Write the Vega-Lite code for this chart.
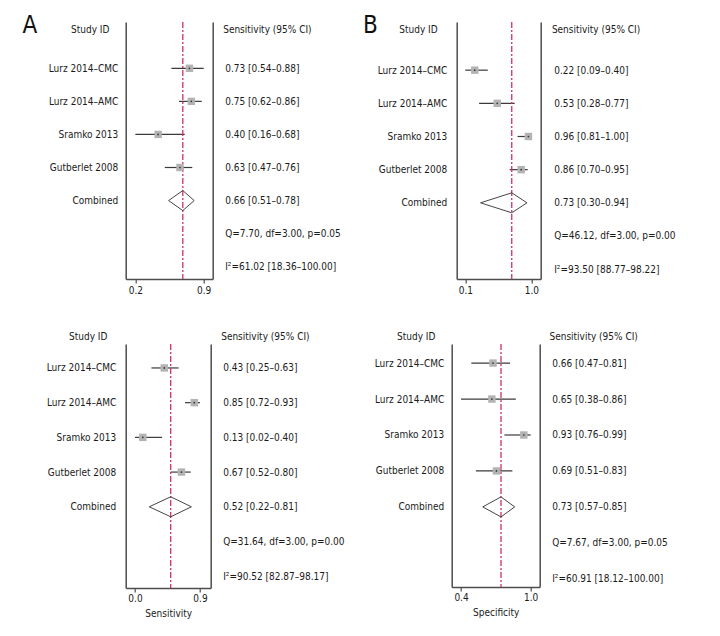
{
  "$schema": "https://vega.github.io/schema/vega-lite/v6.json",
  "padding": {"left": 21.7, "top": 14, "right": 5, "bottom": 5},
  "data": {"values": [
    {"panel": "A1", "row": 1, "study": "Lurz 2014–CMC", "right": "0.73 [0.54–0.88]", "est": 0.73, "lo": 0.54, "hi": 0.88, "type": "study"},
    {"panel": "A1", "row": 2, "study": "Lurz 2014–AMC", "right": "0.75 [0.62–0.86]", "est": 0.75, "lo": 0.62, "hi": 0.86, "type": "study"},
    {"panel": "A1", "row": 3, "study": "Sramko 2013", "right": "0.40 [0.16–0.68]", "est": 0.40, "lo": 0.16, "hi": 0.68, "type": "study"},
    {"panel": "A1", "row": 4, "study": "Gutberlet 2008", "right": "0.63 [0.47–0.76]", "est": 0.63, "lo": 0.47, "hi": 0.76, "type": "study"},
    {"panel": "A1", "row": 5, "study": "Combined", "right": "0.66 [0.51–0.78]", "est": 0.66, "lo": 0.51, "hi": 0.78, "type": "combined"},
    {"panel": "A1", "row": 6, "study": "Q=7.70, df=3.00, p=0.05", "right": "Q=7.70, df=3.00, p=0.05", "type": "stat"},
    {"panel": "A1", "row": 7, "study": "I²=61.02 [18.36–100.00]", "right": "I²=61.02 [18.36–100.00]", "type": "stat"},
    {"panel": "B1", "row": 1, "study": "Lurz 2014–CMC", "right": "0.22 [0.09–0.40]", "est": 0.22, "lo": 0.09, "hi": 0.40, "type": "study"},
    {"panel": "B1", "row": 2, "study": "Lurz 2014–AMC", "right": "0.53 [0.28–0.77]", "est": 0.53, "lo": 0.28, "hi": 0.77, "type": "study"},
    {"panel": "B1", "row": 3, "study": "Sramko 2013", "right": "0.96 [0.81–1.00]", "est": 0.96, "lo": 0.81, "hi": 1.00, "type": "study"},
    {"panel": "B1", "row": 4, "study": "Gutberlet 2008", "right": "0.86 [0.70–0.95]", "est": 0.86, "lo": 0.70, "hi": 0.95, "type": "study"},
    {"panel": "B1", "row": 5, "study": "Combined", "right": "0.73 [0.30–0.94]", "est": 0.73, "lo": 0.30, "hi": 0.94, "type": "combined"},
    {"panel": "B1", "row": 6, "study": "Q=46.12, df=3.00, p=0.00", "right": "Q=46.12, df=3.00, p=0.00", "type": "stat"},
    {"panel": "B1", "row": 7, "study": "I²=93.50 [88.77–98.22]", "right": "I²=93.50 [88.77–98.22]", "type": "stat"},
    {"panel": "A2", "row": 1, "study": "Lurz 2014–CMC", "right": "0.43 [0.25–0.63]", "est": 0.43, "lo": 0.25, "hi": 0.63, "type": "study"},
    {"panel": "A2", "row": 2, "study": "Lurz 2014–AMC", "right": "0.85 [0.72–0.93]", "est": 0.85, "lo": 0.72, "hi": 0.93, "type": "study"},
    {"panel": "A2", "row": 3, "study": "Sramko 2013", "right": "0.13 [0.02–0.40]", "est": 0.13, "lo": 0.02, "hi": 0.40, "type": "study"},
    {"panel": "A2", "row": 4, "study": "Gutberlet 2008", "right": "0.67 [0.52–0.80]", "est": 0.67, "lo": 0.52, "hi": 0.80, "type": "study"},
    {"panel": "A2", "row": 5, "study": "Combined", "right": "0.52 [0.22–0.81]", "est": 0.52, "lo": 0.22, "hi": 0.81, "type": "combined"},
    {"panel": "A2", "row": 6, "study": "Q=31.64, df=3.00, p=0.00", "right": "Q=31.64, df=3.00, p=0.00", "type": "stat"},
    {"panel": "A2", "row": 7, "study": "I²=90.52 [82.87–98.17]", "right": "I²=90.52 [82.87–98.17]", "type": "stat"},
    {"panel": "B2", "row": 1, "study": "Lurz 2014–CMC", "right": "0.66 [0.47–0.81]", "est": 0.66, "lo": 0.47, "hi": 0.81, "type": "study"},
    {"panel": "B2", "row": 2, "study": "Lurz 2014–AMC", "right": "0.65 [0.38–0.86]", "est": 0.65, "lo": 0.38, "hi": 0.86, "type": "study"},
    {"panel": "B2", "row": 3, "study": "Sramko 2013", "right": "0.93 [0.76–0.99]", "est": 0.93, "lo": 0.76, "hi": 0.99, "type": "study"},
    {"panel": "B2", "row": 4, "study": "Gutberlet 2008", "right": "0.69 [0.51–0.83]", "est": 0.69, "lo": 0.51, "hi": 0.83, "type": "study"},
    {"panel": "B2", "row": 5, "study": "Combined", "right": "0.73 [0.57–0.85]", "est": 0.73, "lo": 0.57, "hi": 0.85, "type": "combined"},
    {"panel": "B2", "row": 6, "study": "Q=7.67, df=3.00, p=0.05", "right": "Q=7.67, df=3.00, p=0.05", "type": "stat"},
    {"panel": "B2", "row": 7, "study": "I²=60.91 [18.12–100.00]", "right": "I²=60.91 [18.12–100.00]", "type": "stat"}
  ]},
  "vconcat": [
    {"hconcat": [
      {
        "width": 87, "height": 257,
        "title": {"text": "A", "anchor": "start", "frame": "bounds", "fontSize": 24, "baseline": "alphabetic", "offset": -25, "dy": 11, "dx": -2},
        "transform": [{"filter": "datum.panel === 'A1'"}],
        "layer": [
          {"layer": [
            {"mark": {"type": "text", "text": ""}, "encoding": {"y": {"field": "study", "type": "ordinal", "sort": {"field": "row", "op": "min"}, "scale": {"type": "point", "padding": 0.886, "align": 0.79}, "axis": {"orient": "left", "title": "Study ID", "titleAngle": 0, "titleX": -36, "titleY": 7.3, "titleAlign": "center", "titleBaseline": "middle", "ticks": false, "labelPadding": 8, "minExtent": 101.3, "labelExpr": "indexof(datum.value, '=') >= 0 ? '' : datum.value"}}}},
            {"transform": [{"filter": "datum.type === 'study'"}], "mark": {"type": "rule", "color": "#3a3a3a", "strokeWidth": 1.2},
             "encoding": {"x": {"field": "lo", "type": "quantitative", "scale": {"domain": [0.058, 0.975], "nice": false, "zero": false}, "axis": {"values": [0.16, 0.88], "format": ".1f", "tickSize": 4, "labelPadding": 2, "title": null}}, "x2": {"field": "hi"}, "y": {"field": "study", "type": "ordinal", "sort": {"field": "row", "op": "min"}}}},
            {"transform": [{"filter": "datum.type === 'combined'"}], "mark": {"type": "rule", "color": "#d62f62", "strokeWidth": 1.3, "strokeDash": [6, 2, 2, 2]},
             "encoding": {"x": {"field": "est", "type": "quantitative", "scale": {"domain": [0.058, 0.975], "nice": false, "zero": false}, "axis": {"values": [0.16, 0.88], "format": ".1f", "tickSize": 4, "labelPadding": 2, "title": null}}}},
            {"transform": [{"filter": "datum.type === 'combined'"}], "mark": {"type": "rule", "color": "#444", "strokeWidth": 1, "yOffset": 0, "y2Offset": -10},
             "encoding": {"x": {"field": "lo", "type": "quantitative", "scale": {"domain": [0.058, 0.975], "nice": false, "zero": false}, "axis": {"values": [0.16, 0.88], "format": ".1f", "tickSize": 4, "labelPadding": 2, "title": null}}, "x2": {"field": "est"}, "y": {"field": "study", "type": "ordinal", "sort": {"field": "row", "op": "min"}}, "y2": {"field": "study"}}},
            {"transform": [{"filter": "datum.type === 'combined'"}], "mark": {"type": "rule", "color": "#444", "strokeWidth": 1, "yOffset": -10, "y2Offset": 0},
             "encoding": {"x": {"field": "est", "type": "quantitative", "scale": {"domain": [0.058, 0.975], "nice": false, "zero": false}, "axis": {"values": [0.16, 0.88], "format": ".1f", "tickSize": 4, "labelPadding": 2, "title": null}}, "x2": {"field": "hi"}, "y": {"field": "study", "type": "ordinal", "sort": {"field": "row", "op": "min"}}, "y2": {"field": "study"}}},
            {"transform": [{"filter": "datum.type === 'combined'"}], "mark": {"type": "rule", "color": "#444", "strokeWidth": 1, "yOffset": 0, "y2Offset": 10},
             "encoding": {"x": {"field": "lo", "type": "quantitative", "scale": {"domain": [0.058, 0.975], "nice": false, "zero": false}, "axis": {"values": [0.16, 0.88], "format": ".1f", "tickSize": 4, "labelPadding": 2, "title": null}}, "x2": {"field": "est"}, "y": {"field": "study", "type": "ordinal", "sort": {"field": "row", "op": "min"}}, "y2": {"field": "study"}}},
            {"transform": [{"filter": "datum.type === 'combined'"}], "mark": {"type": "rule", "color": "#444", "strokeWidth": 1, "yOffset": 10, "y2Offset": 0},
             "encoding": {"x": {"field": "est", "type": "quantitative", "scale": {"domain": [0.058, 0.975], "nice": false, "zero": false}, "axis": {"values": [0.16, 0.88], "format": ".1f", "tickSize": 4, "labelPadding": 2, "title": null}}, "x2": {"field": "hi"}, "y": {"field": "study", "type": "ordinal", "sort": {"field": "row", "op": "min"}}, "y2": {"field": "study"}}},
            {"transform": [{"filter": "datum.type === 'study'"}], "mark": {"type": "point", "shape": "square", "filled": true, "color": "#b3b3b3", "size": 55, "opacity": 1},
             "encoding": {"x": {"field": "est", "type": "quantitative", "scale": {"domain": [0.058, 0.975], "nice": false, "zero": false}, "axis": {"values": [0.16, 0.88], "format": ".1f", "tickSize": 4, "labelPadding": 2, "title": null}}, "y": {"field": "study", "type": "ordinal", "sort": {"field": "row", "op": "min"}}}},
            {"transform": [{"filter": "datum.type === 'study'"}], "mark": {"type": "point", "shape": "circle", "filled": true, "color": "#333", "size": 3, "opacity": 1},
             "encoding": {"x": {"field": "est", "type": "quantitative", "scale": {"domain": [0.058, 0.975], "nice": false, "zero": false}, "axis": {"values": [0.16, 0.88], "format": ".1f", "tickSize": 4, "labelPadding": 2, "title": null}}, "y": {"field": "study", "type": "ordinal", "sort": {"field": "row", "op": "min"}}}}
          ]},
          {"mark": {"type": "text", "text": ""}, "encoding": {"y": {"field": "right", "type": "ordinal", "sort": {"field": "row", "op": "min"}, "scale": {"type": "point", "padding": 0.886, "align": 0.79}, "axis": {"orient": "right", "title": "Sensitivity (95% CI)", "titleAngle": 0, "titleX": 10, "titleY": 7.3, "titleAlign": "left", "titleBaseline": "middle", "ticks": false, "labelPadding": 12, "labelAlign": "left", "minExtent": 140}}}}
        ],
        "resolve": {"scale": {"y": "independent"}}
      },
      {
        "width": 84, "height": 257,
        "title": {"text": "B", "anchor": "start", "frame": "bounds", "fontSize": 24, "baseline": "alphabetic", "offset": -25, "dy": 11, "dx": -2},
        "transform": [{"filter": "datum.panel === 'B1'"}],
        "layer": [
          {"layer": [
            {"mark": {"type": "text", "text": ""}, "encoding": {"y": {"field": "study", "type": "ordinal", "sort": {"field": "row", "op": "min"}, "scale": {"type": "point", "padding": 0.875, "align": 0.83}, "axis": {"orient": "left", "title": "Study ID", "titleAngle": 0, "titleX": -38.7, "titleY": 7.3, "titleAlign": "center", "titleBaseline": "middle", "ticks": false, "labelPadding": 10, "minExtent": 91.7, "labelExpr": "indexof(datum.value, '=') >= 0 ? '' : datum.value"}}}},
            {"transform": [{"filter": "datum.type === 'study'"}], "mark": {"type": "rule", "color": "#3a3a3a", "strokeWidth": 1.2},
             "encoding": {"x": {"field": "lo", "type": "quantitative", "scale": {"domain": [-0.029, 1.129], "nice": false, "zero": false}, "axis": {"values": [0.09, 1.0], "format": ".1f", "tickSize": 4, "labelPadding": 2, "title": null}}, "x2": {"field": "hi"}, "y": {"field": "study", "type": "ordinal", "sort": {"field": "row", "op": "min"}}}},
            {"transform": [{"filter": "datum.type === 'combined'"}], "mark": {"type": "rule", "color": "#d62f62", "strokeWidth": 1.3, "strokeDash": [6, 2, 2, 2]},
             "encoding": {"x": {"field": "est", "type": "quantitative", "scale": {"domain": [-0.029, 1.129], "nice": false, "zero": false}, "axis": {"values": [0.09, 1.0], "format": ".1f", "tickSize": 4, "labelPadding": 2, "title": null}}}},
            {"transform": [{"filter": "datum.type === 'combined'"}], "mark": {"type": "rule", "color": "#444", "strokeWidth": 1, "yOffset": 0, "y2Offset": -10},
             "encoding": {"x": {"field": "lo", "type": "quantitative", "scale": {"domain": [-0.029, 1.129], "nice": false, "zero": false}, "axis": {"values": [0.09, 1.0], "format": ".1f", "tickSize": 4, "labelPadding": 2, "title": null}}, "x2": {"field": "est"}, "y": {"field": "study", "type": "ordinal", "sort": {"field": "row", "op": "min"}}, "y2": {"field": "study"}}},
            {"transform": [{"filter": "datum.type === 'combined'"}], "mark": {"type": "rule", "color": "#444", "strokeWidth": 1, "yOffset": -10, "y2Offset": 0},
             "encoding": {"x": {"field": "est", "type": "quantitative", "scale": {"domain": [-0.029, 1.129], "nice": false, "zero": false}, "axis": {"values": [0.09, 1.0], "format": ".1f", "tickSize": 4, "labelPadding": 2, "title": null}}, "x2": {"field": "hi"}, "y": {"field": "study", "type": "ordinal", "sort": {"field": "row", "op": "min"}}, "y2": {"field": "study"}}},
            {"transform": [{"filter": "datum.type === 'combined'"}], "mark": {"type": "rule", "color": "#444", "strokeWidth": 1, "yOffset": 0, "y2Offset": 10},
             "encoding": {"x": {"field": "lo", "type": "quantitative", "scale": {"domain": [-0.029, 1.129], "nice": false, "zero": false}, "axis": {"values": [0.09, 1.0], "format": ".1f", "tickSize": 4, "labelPadding": 2, "title": null}}, "x2": {"field": "est"}, "y": {"field": "study", "type": "ordinal", "sort": {"field": "row", "op": "min"}}, "y2": {"field": "study"}}},
            {"transform": [{"filter": "datum.type === 'combined'"}], "mark": {"type": "rule", "color": "#444", "strokeWidth": 1, "yOffset": 10, "y2Offset": 0},
             "encoding": {"x": {"field": "est", "type": "quantitative", "scale": {"domain": [-0.029, 1.129], "nice": false, "zero": false}, "axis": {"values": [0.09, 1.0], "format": ".1f", "tickSize": 4, "labelPadding": 2, "title": null}}, "x2": {"field": "hi"}, "y": {"field": "study", "type": "ordinal", "sort": {"field": "row", "op": "min"}}, "y2": {"field": "study"}}},
            {"transform": [{"filter": "datum.type === 'study'"}], "mark": {"type": "point", "shape": "square", "filled": true, "color": "#b3b3b3", "size": 55, "opacity": 1},
             "encoding": {"x": {"field": "est", "type": "quantitative", "scale": {"domain": [-0.029, 1.129], "nice": false, "zero": false}, "axis": {"values": [0.09, 1.0], "format": ".1f", "tickSize": 4, "labelPadding": 2, "title": null}}, "y": {"field": "study", "type": "ordinal", "sort": {"field": "row", "op": "min"}}}},
            {"transform": [{"filter": "datum.type === 'study'"}], "mark": {"type": "point", "shape": "circle", "filled": true, "color": "#333", "size": 3, "opacity": 1},
             "encoding": {"x": {"field": "est", "type": "quantitative", "scale": {"domain": [-0.029, 1.129], "nice": false, "zero": false}, "axis": {"values": [0.09, 1.0], "format": ".1f", "tickSize": 4, "labelPadding": 2, "title": null}}, "y": {"field": "study", "type": "ordinal", "sort": {"field": "row", "op": "min"}}}}
          ]},
          {"mark": {"type": "text", "text": ""}, "encoding": {"y": {"field": "right", "type": "ordinal", "sort": {"field": "row", "op": "min"}, "scale": {"type": "point", "padding": 0.875, "align": 0.83}, "axis": {"orient": "right", "title": "Sensitivity (95% CI)", "titleAngle": 0, "titleX": 10.7, "titleY": 7.3, "titleAlign": "left", "titleBaseline": "middle", "ticks": false, "labelPadding": 13, "labelAlign": "left", "minExtent": 140}}}}
        ],
        "resolve": {"scale": {"y": "independent"}}
      }
    ], "spacing": 10},
    {"hconcat": [
      {
        "width": 85, "height": 244,
        "transform": [{"filter": "datum.panel === 'A2'"}],
        "layer": [
          {"layer": [
            {"mark": {"type": "text", "text": ""}, "encoding": {"y": {"field": "study", "type": "ordinal", "sort": {"field": "row", "op": "min"}, "scale": {"type": "point", "padding": 0.515, "align": 0.67}, "axis": {"orient": "left", "title": "Study ID", "titleAngle": 0, "titleX": -38, "titleY": -7.5, "titleAlign": "center", "titleBaseline": "middle", "ticks": false, "labelPadding": 10, "minExtent": 103.3, "labelExpr": "indexof(datum.value, '=') >= 0 ? '' : datum.value"}}}},
            {"transform": [{"filter": "datum.type === 'study'"}], "mark": {"type": "rule", "color": "#3a3a3a", "strokeWidth": 1.2},
             "encoding": {"x": {"field": "lo", "type": "quantitative", "scale": {"domain": [-0.11, 1.08], "nice": false, "zero": false}, "axis": {"values": [0.02, 0.93], "format": ".1f", "tickSize": 4, "labelPadding": 2, "title": "Sensitivity", "titlePadding": 5}}, "x2": {"field": "hi"}, "y": {"field": "study", "type": "ordinal", "sort": {"field": "row", "op": "min"}}}},
            {"transform": [{"filter": "datum.type === 'combined'"}], "mark": {"type": "rule", "color": "#d62f62", "strokeWidth": 1.3, "strokeDash": [6, 2, 2, 2]},
             "encoding": {"x": {"field": "est", "type": "quantitative", "scale": {"domain": [-0.11, 1.08], "nice": false, "zero": false}, "axis": {"values": [0.02, 0.93], "format": ".1f", "tickSize": 4, "labelPadding": 2, "title": "Sensitivity", "titlePadding": 5}}}},
            {"transform": [{"filter": "datum.type === 'combined'"}], "mark": {"type": "rule", "color": "#444", "strokeWidth": 1, "yOffset": 0, "y2Offset": -10},
             "encoding": {"x": {"field": "lo", "type": "quantitative", "scale": {"domain": [-0.11, 1.08], "nice": false, "zero": false}, "axis": {"values": [0.02, 0.93], "format": ".1f", "tickSize": 4, "labelPadding": 2, "title": "Sensitivity", "titlePadding": 5}}, "x2": {"field": "est"}, "y": {"field": "study", "type": "ordinal", "sort": {"field": "row", "op": "min"}}, "y2": {"field": "study"}}},
            {"transform": [{"filter": "datum.type === 'combined'"}], "mark": {"type": "rule", "color": "#444", "strokeWidth": 1, "yOffset": -10, "y2Offset": 0},
             "encoding": {"x": {"field": "est", "type": "quantitative", "scale": {"domain": [-0.11, 1.08], "nice": false, "zero": false}, "axis": {"values": [0.02, 0.93], "format": ".1f", "tickSize": 4, "labelPadding": 2, "title": "Sensitivity", "titlePadding": 5}}, "x2": {"field": "hi"}, "y": {"field": "study", "type": "ordinal", "sort": {"field": "row", "op": "min"}}, "y2": {"field": "study"}}},
            {"transform": [{"filter": "datum.type === 'combined'"}], "mark": {"type": "rule", "color": "#444", "strokeWidth": 1, "yOffset": 0, "y2Offset": 10},
             "encoding": {"x": {"field": "lo", "type": "quantitative", "scale": {"domain": [-0.11, 1.08], "nice": false, "zero": false}, "axis": {"values": [0.02, 0.93], "format": ".1f", "tickSize": 4, "labelPadding": 2, "title": "Sensitivity", "titlePadding": 5}}, "x2": {"field": "est"}, "y": {"field": "study", "type": "ordinal", "sort": {"field": "row", "op": "min"}}, "y2": {"field": "study"}}},
            {"transform": [{"filter": "datum.type === 'combined'"}], "mark": {"type": "rule", "color": "#444", "strokeWidth": 1, "yOffset": 10, "y2Offset": 0},
             "encoding": {"x": {"field": "est", "type": "quantitative", "scale": {"domain": [-0.11, 1.08], "nice": false, "zero": false}, "axis": {"values": [0.02, 0.93], "format": ".1f", "tickSize": 4, "labelPadding": 2, "title": "Sensitivity", "titlePadding": 5}}, "x2": {"field": "hi"}, "y": {"field": "study", "type": "ordinal", "sort": {"field": "row", "op": "min"}}, "y2": {"field": "study"}}},
            {"transform": [{"filter": "datum.type === 'study'"}], "mark": {"type": "point", "shape": "square", "filled": true, "color": "#b3b3b3", "size": 55, "opacity": 1},
             "encoding": {"x": {"field": "est", "type": "quantitative", "scale": {"domain": [-0.11, 1.08], "nice": false, "zero": false}, "axis": {"values": [0.02, 0.93], "format": ".1f", "tickSize": 4, "labelPadding": 2, "title": "Sensitivity", "titlePadding": 5}}, "y": {"field": "study", "type": "ordinal", "sort": {"field": "row", "op": "min"}}}},
            {"transform": [{"filter": "datum.type === 'study'"}], "mark": {"type": "point", "shape": "circle", "filled": true, "color": "#333", "size": 3, "opacity": 1},
             "encoding": {"x": {"field": "est", "type": "quantitative", "scale": {"domain": [-0.11, 1.08], "nice": false, "zero": false}, "axis": {"values": [0.02, 0.93], "format": ".1f", "tickSize": 4, "labelPadding": 2, "title": "Sensitivity", "titlePadding": 5}}, "y": {"field": "study", "type": "ordinal", "sort": {"field": "row", "op": "min"}}}}
          ]},
          {"mark": {"type": "text", "text": ""}, "encoding": {"y": {"field": "right", "type": "ordinal", "sort": {"field": "row", "op": "min"}, "scale": {"type": "point", "padding": 0.515, "align": 0.67}, "axis": {"orient": "right", "title": "Sensitivity (95% CI)", "titleAngle": 0, "titleX": 10, "titleY": -7.5, "titleAlign": "left", "titleBaseline": "middle", "ticks": false, "labelPadding": 12, "labelAlign": "left", "minExtent": 140}}}}
        ],
        "resolve": {"scale": {"y": "independent"}}
      },
      {
        "width": 88, "height": 243,
        "transform": [{"filter": "datum.panel === 'B2'"}],
        "layer": [
          {"layer": [
            {"mark": {"type": "text", "text": ""}, "encoding": {"y": {"field": "study", "type": "ordinal", "sort": {"field": "row", "op": "min"}, "scale": {"type": "point", "padding": 0.379, "align": 0.7}, "axis": {"orient": "left", "title": "Study ID", "titleAngle": 0, "titleX": -36, "titleY": -7.5, "titleAlign": "center", "titleBaseline": "middle", "ticks": false, "labelPadding": 8, "minExtent": 89, "labelExpr": "indexof(datum.value, '=') >= 0 ? '' : datum.value"}}}},
            {"transform": [{"filter": "datum.type === 'study'"}], "mark": {"type": "rule", "color": "#3a3a3a", "strokeWidth": 1.2},
             "encoding": {"x": {"field": "lo", "type": "quantitative", "scale": {"domain": [0.298, 1.069], "nice": false, "zero": false}, "axis": {"values": [0.38, 0.99], "format": ".1f", "tickSize": 4, "labelPadding": 2, "title": "Specificity", "titlePadding": 5}}, "x2": {"field": "hi"}, "y": {"field": "study", "type": "ordinal", "sort": {"field": "row", "op": "min"}}}},
            {"transform": [{"filter": "datum.type === 'combined'"}], "mark": {"type": "rule", "color": "#d62f62", "strokeWidth": 1.3, "strokeDash": [6, 2, 2, 2]},
             "encoding": {"x": {"field": "est", "type": "quantitative", "scale": {"domain": [0.298, 1.069], "nice": false, "zero": false}, "axis": {"values": [0.38, 0.99], "format": ".1f", "tickSize": 4, "labelPadding": 2, "title": "Specificity", "titlePadding": 5}}}},
            {"transform": [{"filter": "datum.type === 'combined'"}], "mark": {"type": "rule", "color": "#444", "strokeWidth": 1, "yOffset": 0, "y2Offset": -10},
             "encoding": {"x": {"field": "lo", "type": "quantitative", "scale": {"domain": [0.298, 1.069], "nice": false, "zero": false}, "axis": {"values": [0.38, 0.99], "format": ".1f", "tickSize": 4, "labelPadding": 2, "title": "Specificity", "titlePadding": 5}}, "x2": {"field": "est"}, "y": {"field": "study", "type": "ordinal", "sort": {"field": "row", "op": "min"}}, "y2": {"field": "study"}}},
            {"transform": [{"filter": "datum.type === 'combined'"}], "mark": {"type": "rule", "color": "#444", "strokeWidth": 1, "yOffset": -10, "y2Offset": 0},
             "encoding": {"x": {"field": "est", "type": "quantitative", "scale": {"domain": [0.298, 1.069], "nice": false, "zero": false}, "axis": {"values": [0.38, 0.99], "format": ".1f", "tickSize": 4, "labelPadding": 2, "title": "Specificity", "titlePadding": 5}}, "x2": {"field": "hi"}, "y": {"field": "study", "type": "ordinal", "sort": {"field": "row", "op": "min"}}, "y2": {"field": "study"}}},
            {"transform": [{"filter": "datum.type === 'combined'"}], "mark": {"type": "rule", "color": "#444", "strokeWidth": 1, "yOffset": 0, "y2Offset": 10},
             "encoding": {"x": {"field": "lo", "type": "quantitative", "scale": {"domain": [0.298, 1.069], "nice": false, "zero": false}, "axis": {"values": [0.38, 0.99], "format": ".1f", "tickSize": 4, "labelPadding": 2, "title": "Specificity", "titlePadding": 5}}, "x2": {"field": "est"}, "y": {"field": "study", "type": "ordinal", "sort": {"field": "row", "op": "min"}}, "y2": {"field": "study"}}},
            {"transform": [{"filter": "datum.type === 'combined'"}], "mark": {"type": "rule", "color": "#444", "strokeWidth": 1, "yOffset": 10, "y2Offset": 0},
             "encoding": {"x": {"field": "est", "type": "quantitative", "scale": {"domain": [0.298, 1.069], "nice": false, "zero": false}, "axis": {"values": [0.38, 0.99], "format": ".1f", "tickSize": 4, "labelPadding": 2, "title": "Specificity", "titlePadding": 5}}, "x2": {"field": "hi"}, "y": {"field": "study", "type": "ordinal", "sort": {"field": "row", "op": "min"}}, "y2": {"field": "study"}}},
            {"transform": [{"filter": "datum.type === 'study'"}], "mark": {"type": "point", "shape": "square", "filled": true, "color": "#b3b3b3", "size": 55, "opacity": 1},
             "encoding": {"x": {"field": "est", "type": "quantitative", "scale": {"domain": [0.298, 1.069], "nice": false, "zero": false}, "axis": {"values": [0.38, 0.99], "format": ".1f", "tickSize": 4, "labelPadding": 2, "title": "Specificity", "titlePadding": 5}}, "y": {"field": "study", "type": "ordinal", "sort": {"field": "row", "op": "min"}}}},
            {"transform": [{"filter": "datum.type === 'study'"}], "mark": {"type": "point", "shape": "circle", "filled": true, "color": "#333", "size": 3, "opacity": 1},
             "encoding": {"x": {"field": "est", "type": "quantitative", "scale": {"domain": [0.298, 1.069], "nice": false, "zero": false}, "axis": {"values": [0.38, 0.99], "format": ".1f", "tickSize": 4, "labelPadding": 2, "title": "Specificity", "titlePadding": 5}}, "y": {"field": "study", "type": "ordinal", "sort": {"field": "row", "op": "min"}}}}
          ]},
          {"mark": {"type": "text", "text": ""}, "encoding": {"y": {"field": "right", "type": "ordinal", "sort": {"field": "row", "op": "min"}, "scale": {"type": "point", "padding": 0.379, "align": 0.7}, "axis": {"orient": "right", "title": "Sensitivity (95% CI)", "titleAngle": 0, "titleX": 9.3, "titleY": -7.5, "titleAlign": "left", "titleBaseline": "middle", "ticks": false, "labelPadding": 12, "labelAlign": "left", "minExtent": 140}}}}
        ],
        "resolve": {"scale": {"y": "independent"}}
      }
    ], "spacing": 12}
  ],
  "spacing": 36,
  "config": {
    "view": {"stroke": null},
    "font": "DejaVu Sans Condensed, Roboto, sans-serif",
    "axis": {"labelFont": "DejaVu Sans Condensed, Roboto, sans-serif", "titleFont": "DejaVu Sans Condensed, Roboto, sans-serif", "labelFontSize": 10, "titleFontSize": 10, "titleFontWeight": "normal", "labelColor": "#1a1a1a", "titleColor": "#1a1a1a", "domainColor": "#4d4d4d", "domainWidth": 1.5, "tickColor": "#4d4d4d", "tickWidth": 1.2, "grid": false},
    "title": {"font": "DejaVu Sans Condensed, Roboto, sans-serif", "fontWeight": "normal", "color": "#111"}
  }
}
